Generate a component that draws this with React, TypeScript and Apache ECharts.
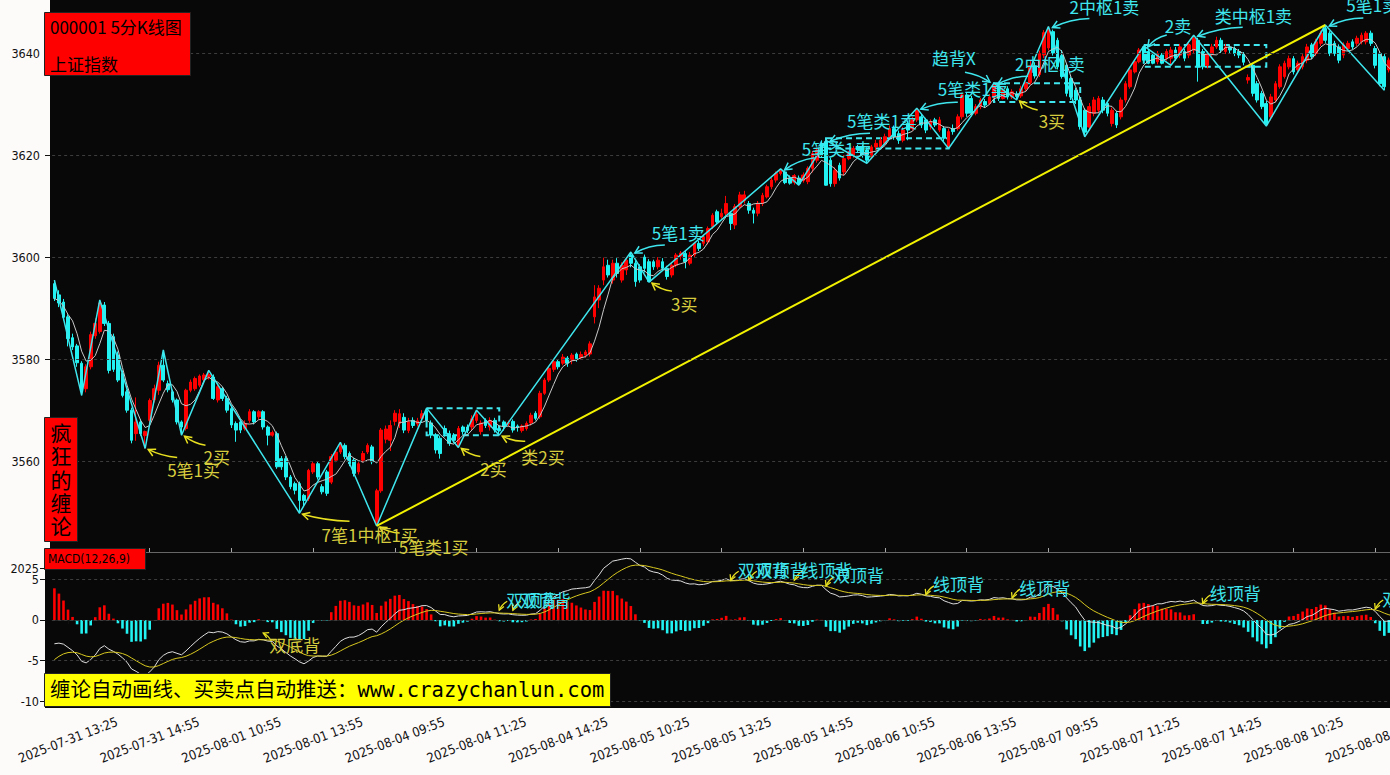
import React, { useEffect, useRef } from 'react';
import * as echarts from 'echarts';

// ---------------- data ----------------
const tradeDays = ['2025-07-31', '2025-08-01', '2025-08-04', '2025-08-05', '2025-08-06', '2025-08-07', '2025-08-08'];
const firstSlot = 25; // 07-31 starts at 13:10

// candles: [open, close, low, high]
const k0731 = [
  [3594.8, 3591.9, 3591.4, 3595.5], [3592.6, 3591.0, 3590.2, 3593.5], [3591.2, 3588.2, 3587.6, 3591.8],
  [3588.3, 3584.0, 3582.5, 3588.8], [3584.2, 3582.4, 3581.8, 3585.0], [3582.6, 3579.3, 3578.5, 3583.0],
  [3579.2, 3573.9, 3572.9, 3579.6], [3574.2, 3578.5, 3573.5, 3579.0], [3578.5, 3584.8, 3578.0, 3585.4],
  [3584.6, 3587.0, 3584.0, 3588.0], [3585.4, 3591.0, 3585.0, 3591.6], [3590.6, 3587.0, 3586.5, 3591.2],
  [3587.0, 3577.8, 3577.2, 3587.5], [3584.4, 3578.0, 3577.5, 3585.0], [3580.8, 3575.9, 3575.5, 3581.5],
  [3577.2, 3572.9, 3572.5, 3577.8], [3573.6, 3570.0, 3569.5, 3574.0], [3570.0, 3564.1, 3563.5, 3570.5],
  [3565.4, 3567.7, 3564.0, 3572.5], [3567.7, 3565.4, 3565.0, 3568.2], [3565.0, 3565.8, 3562.5, 3566.0],
  [3568.0, 3571.9, 3567.5, 3572.3], [3572.0, 3574.2, 3571.5, 3575.0],
];
const k0801 = [
  [3573.9, 3578.8, 3573.0, 3579.5], [3578.8, 3575.9, 3575.5, 3581.8], [3575.2, 3574.0, 3573.5, 3575.8],
  [3573.6, 3572.0, 3571.5, 3574.0], [3572.0, 3567.7, 3567.2, 3572.3], [3567.7, 3566.7, 3565.1, 3568.0],
  [3566.4, 3573.9, 3566.0, 3574.2], [3573.9, 3575.5, 3573.5, 3576.0], [3574.2, 3576.2, 3573.8, 3576.6],
  [3574.9, 3576.7, 3574.5, 3577.0], [3576.0, 3576.9, 3575.5, 3577.3], [3576.5, 3577.0, 3576.0, 3577.8],
  [3576.5, 3572.3, 3572.0, 3577.0], [3572.0, 3574.6, 3571.5, 3575.2], [3574.2, 3572.3, 3571.8, 3574.6],
  [3572.3, 3570.0, 3569.5, 3572.8], [3570.3, 3567.1, 3566.5, 3570.8], [3567.4, 3566.1, 3563.8, 3567.8],
  [3567.7, 3566.1, 3565.5, 3568.2], [3566.4, 3567.4, 3566.0, 3568.0], [3568.0, 3569.7, 3567.5, 3570.2],
  [3569.7, 3567.7, 3567.2, 3570.0], [3568.7, 3569.7, 3568.2, 3570.0], [3569.7, 3566.7, 3566.2, 3570.0],
  [3566.7, 3565.1, 3563.1, 3567.0], [3565.1, 3565.6, 3564.8, 3566.0], [3565.4, 3558.9, 3558.5, 3565.8],
  [3560.5, 3558.9, 3558.3, 3561.0], [3560.5, 3556.9, 3556.3, 3561.0], [3556.9, 3555.0, 3554.5, 3557.3],
  [3555.6, 3554.3, 3553.5, 3556.0], [3555.6, 3552.3, 3549.8, 3556.0], [3553.3, 3552.3, 3551.0, 3553.6],
  [3552.7, 3558.2, 3552.2, 3558.5], [3557.9, 3559.5, 3557.5, 3560.0], [3559.5, 3556.9, 3556.4, 3560.0],
  [3555.0, 3554.0, 3553.5, 3555.5], [3557.9, 3553.7, 3553.2, 3558.3], [3555.9, 3560.9, 3555.5, 3561.4],
  [3560.2, 3561.8, 3559.8, 3562.2], [3561.8, 3563.1, 3561.4, 3563.7], [3563.1, 3560.9, 3560.4, 3563.5],
  [3561.5, 3559.5, 3559.0, 3561.9], [3560.2, 3557.6, 3557.0, 3560.6], [3557.9, 3559.5, 3557.4, 3560.0],
  [3560.2, 3561.5, 3559.8, 3562.0], [3561.8, 3563.1, 3561.4, 3563.5], [3562.8, 3559.9, 3559.4, 3563.2],
];
const k0804 = [
  [3547.9, 3554.2, 3547.3, 3554.6], [3554.2, 3566.1, 3553.8, 3566.5], [3564.3, 3566.3, 3563.5, 3567.0],
  [3564.1, 3567.0, 3562.0, 3568.0], [3567.8, 3569.4, 3567.0, 3570.0], [3567.4, 3569.3, 3566.5, 3570.2],
  [3568.6, 3566.1, 3565.5, 3569.4], [3566.0, 3567.7, 3565.5, 3568.5], [3568.0, 3567.0, 3566.5, 3568.6],
  [3567.3, 3567.9, 3566.8, 3568.5], [3568.4, 3569.3, 3567.5, 3570.0], [3569.9, 3568.0, 3567.5, 3570.4],
  [3567.5, 3565.1, 3564.5, 3568.0], [3565.1, 3562.2, 3561.5, 3565.5], [3564.5, 3561.5, 3560.5, 3565.0],
  [3566.4, 3565.4, 3564.8, 3567.0], [3565.4, 3563.5, 3563.0, 3566.0], [3565.1, 3564.1, 3563.5, 3565.5],
  [3562.9, 3566.4, 3562.7, 3566.9], [3566.7, 3565.8, 3565.2, 3567.0], [3566.7, 3566.0, 3565.5, 3567.2],
  [3566.7, 3568.3, 3566.0, 3569.0], [3568.0, 3569.2, 3567.5, 3570.0], [3565.8, 3567.5, 3565.2, 3568.0],
  [3568.0, 3567.0, 3566.5, 3568.4], [3566.7, 3568.0, 3566.0, 3568.6], [3568.0, 3566.1, 3565.6, 3568.5],
  [3566.4, 3566.0, 3565.1, 3567.0], [3567.7, 3566.8, 3566.0, 3568.0], [3567.3, 3567.5, 3566.8, 3568.0],
  [3567.8, 3566.1, 3565.6, 3568.2], [3566.9, 3566.6, 3565.8, 3567.2], [3566.0, 3566.9, 3565.6, 3567.2],
  [3566.4, 3567.4, 3566.0, 3567.8], [3567.5, 3569.0, 3567.0, 3569.5], [3569.4, 3568.4, 3568.0, 3569.8],
  [3568.7, 3573.3, 3568.3, 3573.8], [3573.3, 3575.9, 3573.0, 3576.3], [3575.9, 3578.2, 3575.5, 3578.6],
  [3578.0, 3579.5, 3577.5, 3580.0], [3579.5, 3578.5, 3578.0, 3580.0], [3579.2, 3580.4, 3578.8, 3581.0],
  [3580.2, 3579.2, 3578.5, 3580.6], [3579.8, 3580.8, 3579.0, 3581.2], [3581.0, 3580.1, 3579.5, 3581.3],
  [3580.3, 3580.9, 3580.0, 3581.5], [3580.8, 3581.4, 3580.3, 3581.8], [3581.0, 3583.0, 3580.5, 3583.5],
];
const k0805 = [
  [3588.3, 3592.2, 3587.0, 3594.5], [3591.6, 3593.9, 3590.0, 3594.5], [3595.5, 3598.1, 3594.5, 3599.9],
  [3598.4, 3596.5, 3596.0, 3599.5], [3595.5, 3598.8, 3594.8, 3599.5], [3598.8, 3596.8, 3596.0, 3599.8],
  [3595.5, 3598.4, 3595.0, 3599.0], [3597.5, 3599.4, 3596.5, 3600.0], [3600.4, 3598.8, 3598.0, 3601.0],
  [3598.8, 3595.2, 3594.2, 3599.3], [3598.1, 3595.5, 3595.0, 3598.6], [3600.0, 3597.8, 3597.0, 3600.5],
  [3599.1, 3595.2, 3595.1, 3599.6], [3599.1, 3598.1, 3597.5, 3599.5], [3598.1, 3599.4, 3597.6, 3600.0],
  [3599.1, 3597.8, 3597.3, 3599.8], [3597.8, 3596.2, 3595.6, 3598.3], [3596.5, 3598.4, 3596.0, 3598.8],
  [3598.4, 3600.4, 3598.0, 3600.8], [3600.2, 3600.8, 3599.5, 3601.2], [3600.7, 3599.1, 3597.8, 3601.2],
  [3598.8, 3600.4, 3598.4, 3601.0], [3600.4, 3602.7, 3600.0, 3603.0], [3602.7, 3601.7, 3601.2, 3603.2],
  [3602.7, 3604.0, 3602.2, 3604.5], [3603.0, 3605.6, 3602.5, 3606.0], [3606.0, 3608.2, 3605.5, 3608.6],
  [3608.9, 3606.9, 3606.4, 3609.3], [3607.9, 3608.6, 3607.5, 3609.5], [3608.6, 3610.5, 3608.0, 3612.0],
  [3608.6, 3606.6, 3605.3, 3609.0], [3606.3, 3609.9, 3605.5, 3610.4], [3609.9, 3612.2, 3609.5, 3612.8],
  [3611.1, 3612.2, 3610.5, 3613.0], [3610.5, 3609.2, 3608.5, 3611.0], [3609.2, 3608.6, 3606.6, 3609.7],
  [3608.6, 3610.5, 3608.0, 3611.0], [3610.5, 3612.1, 3610.0, 3612.6], [3611.8, 3613.8, 3611.5, 3614.2],
  [3613.8, 3615.1, 3613.3, 3615.6], [3615.1, 3616.4, 3614.6, 3616.8], [3616.4, 3616.9, 3616.0, 3617.3],
  [3616.7, 3614.6, 3614.3, 3617.0], [3615.5, 3614.5, 3614.2, 3616.0], [3614.7, 3616.0, 3614.2, 3616.3],
  [3615.5, 3614.4, 3614.1, 3616.0], [3615.0, 3616.1, 3614.6, 3616.6], [3614.8, 3617.4, 3614.3, 3617.8],
];
const k0806 = [
  [3617.4, 3620.3, 3616.6, 3620.8], [3619.0, 3621.0, 3618.5, 3621.5], [3622.3, 3620.0, 3619.5, 3622.9],
  [3622.6, 3614.1, 3614.0, 3622.9], [3619.0, 3614.4, 3613.8, 3619.5], [3614.4, 3617.0, 3613.8, 3617.6],
  [3618.0, 3615.5, 3615.0, 3618.5], [3616.7, 3619.3, 3616.0, 3620.0], [3619.3, 3620.3, 3619.0, 3620.8],
  [3620.0, 3621.3, 3619.5, 3621.8], [3621.6, 3621.0, 3620.5, 3622.0], [3621.6, 3620.0, 3619.5, 3622.0],
  [3621.0, 3619.0, 3618.4, 3621.5], [3619.7, 3621.6, 3619.2, 3622.0], [3621.6, 3622.3, 3621.0, 3623.0],
  [3621.6, 3622.9, 3621.2, 3623.5], [3622.3, 3623.6, 3622.0, 3624.2], [3623.6, 3625.2, 3623.0, 3625.8],
  [3625.2, 3623.6, 3623.0, 3625.8], [3624.2, 3622.9, 3622.2, 3624.8], [3622.9, 3624.9, 3622.5, 3625.5],
  [3626.2, 3624.9, 3622.9, 3626.8], [3625.2, 3626.9, 3624.8, 3627.5], [3626.9, 3628.8, 3626.5, 3629.2],
  [3627.5, 3625.9, 3625.3, 3628.0], [3626.9, 3624.9, 3624.3, 3627.3], [3625.6, 3626.5, 3625.0, 3627.0],
  [3626.9, 3625.9, 3625.5, 3627.3], [3624.9, 3626.9, 3624.5, 3627.5], [3625.2, 3623.3, 3622.7, 3625.7],
  [3621.6, 3624.6, 3621.3, 3625.2], [3625.2, 3624.6, 3624.0, 3626.0], [3625.2, 3627.5, 3624.8, 3628.0],
  [3627.5, 3631.8, 3627.0, 3632.1], [3631.8, 3628.2, 3627.5, 3632.2], [3631.1, 3628.2, 3627.6, 3631.6],
  [3628.2, 3629.5, 3627.8, 3630.0], [3629.5, 3630.8, 3629.0, 3631.2], [3630.5, 3629.8, 3629.3, 3631.0],
  [3630.1, 3631.4, 3629.8, 3632.0], [3631.4, 3633.7, 3631.0, 3634.1], [3633.4, 3631.1, 3630.6, 3633.8],
  [3631.1, 3632.7, 3630.9, 3633.2], [3633.0, 3631.4, 3630.9, 3633.5], [3631.4, 3632.4, 3631.0, 3632.9],
  [3632.0, 3631.5, 3630.8, 3632.5], [3631.6, 3633.0, 3631.2, 3633.6], [3633.0, 3634.0, 3632.5, 3634.4],
];
const k0807 = [
  [3634.2, 3637.5, 3633.8, 3638.6], [3637.5, 3635.5, 3635.0, 3638.2], [3635.8, 3639.9, 3635.3, 3640.5],
  [3639.6, 3644.0, 3639.0, 3644.5], [3641.0, 3644.6, 3640.5, 3645.2], [3644.2, 3640.0, 3639.5, 3644.6],
  [3642.5, 3637.3, 3636.8, 3643.0], [3639.5, 3635.4, 3635.0, 3640.6], [3637.6, 3632.1, 3631.5, 3638.0],
  [3635.0, 3631.4, 3630.8, 3635.4], [3632.7, 3630.8, 3630.0, 3633.2], [3630.8, 3625.6, 3625.0, 3631.2],
  [3628.8, 3624.5, 3623.6, 3629.2], [3625.5, 3629.5, 3624.8, 3630.2], [3628.2, 3630.8, 3627.6, 3631.4],
  [3628.8, 3631.1, 3628.2, 3631.6], [3630.8, 3628.8, 3628.2, 3631.4], [3630.1, 3628.2, 3627.6, 3630.6],
  [3626.2, 3628.8, 3625.6, 3629.3], [3628.2, 3625.9, 3625.3, 3628.7], [3627.5, 3630.8, 3627.0, 3631.3],
  [3630.8, 3634.0, 3630.3, 3634.5], [3633.4, 3636.7, 3633.0, 3637.2], [3636.3, 3638.3, 3636.0, 3638.8],
  [3638.3, 3640.6, 3638.0, 3641.0], [3641.2, 3638.6, 3638.0, 3641.4], [3640.3, 3638.0, 3637.8, 3640.8],
  [3639.6, 3638.0, 3637.8, 3640.0], [3638.3, 3639.9, 3637.8, 3640.4], [3639.6, 3638.0, 3637.8, 3640.0],
  [3639.0, 3640.3, 3638.5, 3640.8], [3639.0, 3640.6, 3637.6, 3641.2], [3640.6, 3639.0, 3638.5, 3641.2],
  [3639.6, 3641.2, 3639.0, 3641.8], [3640.3, 3639.0, 3638.4, 3640.8], [3639.6, 3641.6, 3639.0, 3642.2],
  [3640.6, 3642.9, 3640.0, 3643.5], [3642.5, 3637.3, 3634.4, 3643.0], [3640.3, 3637.3, 3636.8, 3640.8],
  [3637.6, 3639.9, 3637.0, 3640.4], [3639.9, 3641.2, 3639.4, 3641.8], [3641.2, 3642.5, 3640.8, 3643.2],
  [3642.5, 3640.6, 3640.0, 3643.0], [3640.3, 3641.2, 3639.8, 3641.8], [3641.2, 3640.6, 3640.0, 3641.6],
  [3640.9, 3639.9, 3639.4, 3641.3], [3640.3, 3639.6, 3639.0, 3640.8], [3639.8, 3638.2, 3637.6, 3640.2],
];
const k0808 = [
  [3634.7, 3635.2, 3634.0, 3635.8], [3637.6, 3632.1, 3631.5, 3638.0], [3634.0, 3630.8, 3630.3, 3634.5],
  [3632.1, 3629.5, 3629.0, 3632.6], [3630.1, 3626.2, 3625.7, 3630.6], [3627.5, 3631.4, 3626.8, 3632.0],
  [3630.8, 3634.0, 3630.3, 3634.5], [3633.4, 3637.3, 3633.0, 3637.8], [3635.4, 3638.0, 3635.0, 3638.5],
  [3637.3, 3638.9, 3636.8, 3639.5], [3638.9, 3636.3, 3635.8, 3639.4], [3636.7, 3638.0, 3636.2, 3638.5],
  [3637.3, 3639.3, 3636.8, 3639.8], [3638.6, 3641.2, 3638.0, 3641.8], [3641.6, 3639.3, 3638.8, 3642.0],
  [3639.9, 3642.2, 3639.4, 3642.8], [3641.9, 3643.9, 3641.4, 3644.4], [3644.8, 3642.5, 3642.0, 3645.5],
  [3643.9, 3639.9, 3639.4, 3644.3], [3641.9, 3639.9, 3639.4, 3642.4], [3641.2, 3638.6, 3638.0, 3641.7],
  [3639.6, 3641.6, 3639.0, 3642.1], [3640.9, 3641.9, 3640.4, 3642.4], [3642.2, 3641.2, 3640.7, 3642.7],
  [3641.9, 3642.9, 3641.4, 3643.4], [3642.2, 3643.5, 3641.7, 3644.0], [3642.2, 3643.9, 3641.7, 3644.3],
  [3643.9, 3641.9, 3641.4, 3644.4], [3640.9, 3637.6, 3637.0, 3641.4], [3639.9, 3634.0, 3633.5, 3640.4],
  [3639.3, 3633.4, 3632.7, 3639.8], [3636.7, 3638.6, 3636.2, 3639.1], [3638.0, 3639.0, 3637.5, 3639.5],
];
const dayBars = [k0731, k0801, k0804, k0805, k0806, k0807, k0808];

// strokes (bi) vertices: [bar index, price]
const biPoints = [
  [0, 3595.5], [6, 3572.9], [10, 3591.6], [20, 3562.5], [24, 3581.8], [28, 3565.1], [34, 3577.8],
  [54, 3549.8], [63, 3563.7], [71, 3547.3], [82, 3570.4], [89, 3562.7], [93, 3570.0], [98, 3565.1],
  [127, 3601.0], [131, 3595.1], [160, 3617.3], [164, 3614.1], [170, 3622.9], [179, 3618.4],
  [190, 3629.2], [197, 3621.3], [207, 3634.1], [212, 3630.8], [219, 3645.2], [227, 3623.6],
  [240, 3641.4], [246, 3637.6], [251, 3643.5], [267, 3625.7], [280, 3645.5], [293, 3632.7],
];
const trendLine = [[71, 3547.3], [280, 3645.5]];
// pivot boxes: [start bar, top, end bar, bottom]
const zsBoxes = [
  [82, 3570.4, 98, 3565.1], [170, 3623.3, 197, 3621.3], [207, 3634.1, 226, 3630.4], [240, 3641.6, 267, 3637.3],
];

const mainTicks = [3560, 3580, 3600, 3620, 3640];
const macdTicks = [-10, -5, 0, 5];
const macdOddTick = 6.37; // shown as "2025" in the picture
const macdOddLabel = '2025';
const macdStart = { dif: -2.93, dea: -4.88, ema12Gap: 0.8 };
const tickStart = 3;
const tickStep = 18;

const buyLabels = ['5笔1买', '2买', '7笔1中枢1买', '5笔类1买', '2买', '类2买', '3买', '3买'];
const buyAt = [[20, 3562.5], [28, 3565.1], [54, 3549.8], [71, 3547.3], [89, 3562.7], [98, 3565.1], [131, 3595.1], [212, 3630.8]];
const sellLabels = ['5笔1卖', '5笔类1卖', '5笔类1卖', '5笔类1卖', '2中枢1卖', '2中枢1卖', '2卖', '类中枢1卖', '5笔1卖'];
const sellAt = [[127, 3601.0], [160, 3617.3], [170, 3622.9], [190, 3629.2], [207, 3634.1], [219, 3645.2], [240, 3641.4], [251, 3643.5], [280, 3645.5]];
const trendDivLabel = '趋背X';
const trendDivAt = [207, 3634.1];

const macdLabels = ['双底背', '双顶背', '双顶背', '双顶背', '双顶背', '线顶背', '双顶背', '线顶背', '线顶背', '线顶背', '双顶背'];
const macdAt = [[46, -1.6], [98, 1.2], [101, 1.2], [149, 4.9], [153, 4.9], [163, 4.9], [170, 4.2], [192, 3.1], [211, 2.7], [253, 2.0], [291, 1.35]];

// ---------------- layout ----------------
const W = 1390;
const H = 775;
const BAR = 4.539;
const FIRST_X = 54.4;
const CYAN = '#3fe6ee';
const RED = '#ff0000';
const DOWN = '#22f2f2';
const BUY_TXT = '#d6cc3e';
const BUY_ARR = '#e8e020';
const NARROW = "'Liberation Sans Narrow', 'DejaVu Sans Condensed', 'Arial Narrow', Roboto, sans-serif";
const CJK = "'Noto Sans CJK SC', 'Noto Sans', sans-serif";

const buyArrowStart = [[32, 9], [24, 10], [50, 8], [23, 7], [22, 9], [26, 6], [23, 9], [21, 10]];
const sellArrowStart = [[34, -7], [34, -11], [44, -7], [41, -6], [34, -7], [41, -8], [23, -11], [49, -8], [38, -7]];

function slotTime(s: number) {
  const m = s < 24 ? 9 * 60 + 35 + s * 5 : 13 * 60 + 5 + (s - 24) * 5;
  const hh = Math.floor(m / 60);
  const mm = m % 60;
  return `${hh < 10 ? '0' : ''}${hh}:${mm < 10 ? '0' : ''}${mm}`;
}

function arrow(sx: number, sy: number, tx: number, ty: number, color: string, bend: number, head = 8, lw = 1.5) {
  const dx = tx - sx;
  const dy = ty - sy;
  const len = Math.hypot(dx, dy) || 1;
  const nx = -dy / len;
  const ny = dx / len;
  const cx = (sx + tx) / 2 + nx * bend;
  const cy = (sy + ty) / 2 + ny * bend;
  const ang = Math.atan2(ty - cy, tx - cx);
  const p1 = [tx - head * Math.cos(ang - 0.5), ty - head * Math.sin(ang - 0.5)];
  const p2 = [tx - head * Math.cos(ang + 0.5), ty - head * Math.sin(ang + 0.5)];
  return [
    { type: 'bezierCurve', silent: true, z: 100, shape: { x1: sx, y1: sy, x2: tx, y2: ty, cpx1: cx, cpy1: cy }, style: { stroke: color, lineWidth: lw, fill: 'none' } },
    { type: 'polyline', silent: true, z: 100, shape: { points: [p1, [tx, ty], p2] }, style: { stroke: color, lineWidth: lw, fill: 'none' } },
  ];
}

function txt(x: number, y: number, text: string, color: string, size: number, family = CJK, align = 'left', z = 101) {
  return { type: 'text', silent: true, z, x, y, style: { text, fill: color, fontSize: size, fontFamily: family, align, verticalAlign: 'middle' } };
}

export default function App() {
  const ref = useRef<HTMLDivElement>(null);

  useEffect(() => {
    const kdata: number[][] = [];
    const cats: string[] = [];
    dayBars.forEach((bars, d) => {
      const start = d === 0 ? firstSlot : 0;
      bars.forEach((b, j) => {
        kdata.push(b);
        cats.push(`${tradeDays[d]} ${slotTime(start + j)}`);
      });
    });
    const N = kdata.length;
    const closes = kdata.map((b) => b[1]);
    const ma5 = closes.map((_, i) => {
      const s = Math.max(0, i - 4);
      const w = closes.slice(s, i + 1);
      return +(w.reduce((a, c) => a + c, 0) / w.length).toFixed(2);
    });
    const dif: number[] = [];
    const dea: number[] = [];
    let e12 = closes[0] + macdStart.ema12Gap;
    let e26 = e12 - macdStart.dif;
    let dv = macdStart.dea;
    closes.forEach((c, i) => {
      if (i > 0) {
        e12 += ((c - e12) * 2) / 13;
        e26 += ((c - e26) * 2) / 27;
        dv += ((e12 - e26 - dv) * 2) / 10;
      }
      dif.push(+(e12 - e26).toFixed(3));
      dea.push(+dv.toFixed(3));
    });
    const hist = dif.map((v, i) => {
      const h = +(2 * (v - dea[i])).toFixed(3);
      return { value: h, itemStyle: { color: h >= 0 ? RED : DOWN } };
    });

    const gridLeft = FIRST_X - BAR / 2;
    const gridWidth = N * BAR;
    const tickFn = (idx: number) => idx >= tickStart && (idx - tickStart) % tickStep === 0;

    const chart = echarts.init(ref.current!, null, { renderer: 'svg', width: W, height: H });
    chart.setOption({
      animation: false,
      backgroundColor: 'transparent',
      grid: [
        { left: gridLeft, top: 0, width: gridWidth, height: 552, containLabel: false, outerBoundsMode: 'none' },
        { left: gridLeft, top: 553, width: gridWidth, height: 155, containLabel: false, outerBoundsMode: 'none' },
      ],
      xAxis: [
        {
          type: 'category', gridIndex: 0, data: cats, boundaryGap: true,
          axisLine: { show: true, lineStyle: { color: '#666', width: 1 } },
          axisTick: { show: true, inside: true, length: 4, alignWithLabel: true, interval: tickFn, lineStyle: { color: '#aaa' } },
          axisLabel: { show: false, interval: tickFn },
          splitLine: { show: false },
        },
        {
          type: 'category', gridIndex: 1, data: cats, boundaryGap: true,
          axisLine: { show: true, lineStyle: { color: '#222', width: 1 } },
          axisTick: { show: true, length: 4, alignWithLabel: true, interval: tickFn, lineStyle: { color: '#111' } },
          axisLabel: {
            show: true, interval: tickFn, rotate: 21, align: 'center', verticalAlign: 'middle', margin: 32,
            fontSize: 13, fontFamily: NARROW, color: '#111', hideOverlap: false,
          },
          splitLine: { show: false },
        },
      ],
      yAxis: [
        {
          type: 'value', gridIndex: 0, min: 3542.2, max: 3650.4, offset: gridLeft - 50,
          axisLine: { show: false },
          axisTick: { show: true, length: 5, customValues: mainTicks, lineStyle: { color: '#111' } },
          axisLabel: {
            show: true, customValues: mainTicks, margin: 10, fontSize: 12.5, fontFamily: NARROW, color: '#111',
            formatter: (v: number) => String(v),
          },
          splitLine: { show: false },
        },
        {
          type: 'value', gridIndex: 1, min: -10.84, max: 8.25, offset: gridLeft - 45,
          axisLine: { show: false },
          axisTick: { show: true, length: 5, customValues: [...macdTicks, macdOddTick], lineStyle: { color: '#111' } },
          axisLabel: {
            show: true, customValues: macdTicks, margin: 6, fontSize: 12.5, fontFamily: NARROW, color: '#111',
            formatter: (v: number) => String(v),
          },
          splitLine: { show: false },
        },
      ],
      series: [
        {
          type: 'line', xAxisIndex: 0, yAxisIndex: 0, z: 1, data: [[0, 3700]], showSymbol: false, silent: true,
          lineStyle: { opacity: 0 },
          markLine: {
            silent: true, symbol: ['none', 'none'], label: { show: false },
            lineStyle: { color: '#3c3c3c', type: [3, 3], width: 1 },
            data: mainTicks.map((v) => ({ yAxis: v })),
          },
        },
        {
          type: 'candlestick', xAxisIndex: 0, yAxisIndex: 0, data: kdata, barWidth: 3.2,
          itemStyle: { color: RED, color0: DOWN, borderColor: RED, borderColor0: DOWN, borderWidth: 1 },
        },
        {
          type: 'line', xAxisIndex: 0, yAxisIndex: 0, data: ma5, showSymbol: false, silent: true,
          lineStyle: { color: '#c8c8c8', width: 1 },
        },
        {
          type: 'line', xAxisIndex: 0, yAxisIndex: 0, data: biPoints, showSymbol: false, silent: true,
          lineStyle: { color: CYAN, width: 1.5 },
          markArea: {
            silent: true,
            itemStyle: { color: 'rgba(0,0,0,0)', borderColor: CYAN, borderWidth: 2, borderType: [6, 4] },
            data: zsBoxes.map((b) => [{ coord: [b[0], b[1]] }, { coord: [b[2], b[3]] }]),
          },
        },
        {
          type: 'line', xAxisIndex: 0, yAxisIndex: 0, data: trendLine, showSymbol: false, silent: true,
          lineStyle: { color: '#f2f200', width: 2 },
        },
        {
          type: 'line', xAxisIndex: 1, yAxisIndex: 1, z: 1, data: [[0, 50]], showSymbol: false, silent: true,
          lineStyle: { opacity: 0 },
          markLine: {
            silent: true, symbol: ['none', 'none'], label: { show: false },
            lineStyle: { color: '#3c3c3c', type: [3, 3], width: 1 },
            data: macdTicks.map((v) => ({ yAxis: v })),
          },
        },
        { type: 'bar', xAxisIndex: 1, yAxisIndex: 1, data: hist, barWidth: 2.6, silent: true },
        {
          type: 'line', xAxisIndex: 1, yAxisIndex: 1, data: dif, showSymbol: false, silent: true,
          lineStyle: { color: '#dedede', width: 1 },
        },
        {
          type: 'line', xAxisIndex: 1, yAxisIndex: 1, data: dea, showSymbol: false, silent: true,
          lineStyle: { color: '#d8c820', width: 1 },
        },
      ],
    });

    const p0 = (i: number, v: number) => chart.convertToPixel({ gridIndex: 0 }, [i, v]) as number[];
    const p1 = (i: number, v: number) => chart.convertToPixel({ gridIndex: 1 }, [i, v]) as number[];

    const g: any[] = [
      { type: 'rect', silent: true, z: -10, shape: { x: 50, y: 0, width: W - 50, height: 553 }, style: { fill: '#080808' } },
      { type: 'rect', silent: true, z: -10, shape: { x: 45, y: 552, width: W - 45, height: 156 }, style: { fill: '#080808' } },
    ];

    buyLabels.forEach((t, k) => {
      const [x, y] = p0(buyAt[k][0], buyAt[k][1]);
      const s = buyArrowStart[k];
      g.push(...arrow(x + s[0], y + s[1], x + 3, y + 1, BUY_ARR, -3));
      g.push(txt(x + 22, y + 21, t, BUY_TXT, 17));
    });
    sellLabels.forEach((t, k) => {
      const [x, y] = p0(sellAt[k][0], sellAt[k][1]);
      const s = sellArrowStart[k];
      g.push(...arrow(x + s[0], y + s[1], x + 4, y + 1, CYAN, 4));
      g.push(txt(x + 21, y - 20, t, CYAN, 17));
    });
    {
      const [x, y] = p0(trendDivAt[0], trendDivAt[1]);
      g.push(...arrow(x - 29, y - 11, x - 4, y - 1, CYAN, -3));
      g.push(txt(x - 62, y - 26, trendDivLabel, CYAN, 17));
    }
    macdLabels.forEach((t, k) => {
      const [x, y] = p1(macdAt[k][0], macdAt[k][1]);
      if (t === '双底背') {
        g.push(...arrow(x + 8, y + 8, x, y, BUY_ARR, 2, 6, 1.3));
        g.push(txt(x + 6, y + 12, t, BUY_TXT, 17));
      } else {
        g.push(...arrow(x + 8, y - 9, x, y, BUY_ARR, 2, 6, 1.3));
        g.push(txt(x + 7, y - 11, t, CYAN, 17));
      }
    });

    // odd "2025" label on the MACD axis
    {
      const [, y] = p1(0, macdOddTick);
      g.push(txt(39, y, macdOddLabel, '#111', 12.5, NARROW, 'right', 5));
    }

    // boxes
    g.push({ type: 'rect', silent: true, z: 110, shape: { x: 44.5, y: 12.5, width: 146, height: 63 }, style: { fill: RED, stroke: '#222', lineWidth: 1 } });
    g.push(txt(50, 26, '000001 5分K线图', '#000', 17, CJK, 'left', 111));
    g.push(txt(50, 63, '上证指数', '#000', 17, CJK, 'left', 111));
    g.push({ type: 'rect', silent: true, z: 110, shape: { x: 44.5, y: 417.5, width: 33, height: 124 }, style: { fill: RED, stroke: '#222', lineWidth: 1 } });
    '疯狂的缠论'.split('').forEach((ch, k) => g.push(txt(61, 432 + k * 23.3, ch, '#000', 21, CJK, 'center', 111)));
    g.push({ type: 'rect', silent: true, z: 110, shape: { x: 44.5, y: 548.5, width: 101, height: 21 }, style: { fill: RED, stroke: '#222', lineWidth: 1 } });
    g.push(txt(48, 559, 'MACD(12,26,9)', '#000', 12, NARROW, 'left', 111));
    g.push({ type: 'rect', silent: true, z: 110, shape: { x: 44.5, y: 673.5, width: 566, height: 33 }, style: { fill: '#ffff00', stroke: '#222', lineWidth: 1 } });
    g.push(txt(50, 690, '缠论自动画线、买卖点自动推送：www.crazychanlun.com', '#000', 20.5, "'DejaVu Sans Mono', 'Noto Sans CJK SC', monospace", 'left', 111));

    chart.setOption({ graphic: g });
    return () => chart.dispose();
  }, []);

  return <div ref={ref} style={{ position: 'fixed', left: 0, top: 0, width: W, height: H, background: '#fdfafa' }} />;
}
